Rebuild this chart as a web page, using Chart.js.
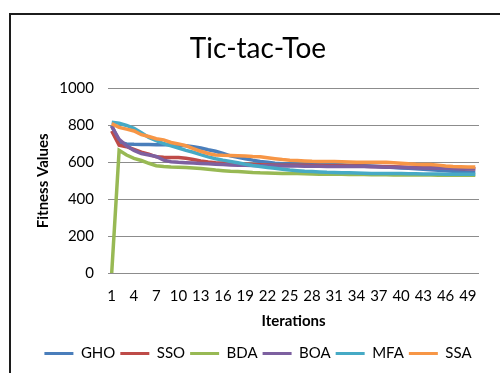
<!DOCTYPE html>
<html>
<head>
<meta charset="utf-8">
<script src="https://cdn.jsdelivr.net/npm/chart.js@4"></script>
<style>
    html, body { margin: 0; padding: 0; background: #fff; overflow: hidden; width: 500px; height: 373px; }
    .frame {
        position: absolute; left: 9px; top: 13px;
        width: 494px; height: 362px;
        border: 2px solid #1c1c1c;
    }
    canvas { display: block; }
</style>
</head>
<body>
<div class="frame"><canvas id="chart" width="494" height="360"></canvas></div>
<script>
const iterations = Array.from({ length: 50 }, (_, i) => String(i + 1));

const gho = [800, 710, 700, 698, 697, 697, 696, 695, 695, 693, 690, 685, 678, 668, 660, 648, 635, 628, 620, 612,
    605, 600, 595, 593, 592, 591, 590, 590, 590, 590, 588, 587, 585, 584, 582, 580, 578, 575, 572, 570,
    568, 565, 562, 560, 557, 555, 552, 550, 548, 546];
const sso = [770, 693, 685, 670, 655, 645, 630, 628, 627, 626, 622, 615, 608, 602, 598, 596, 594, 592, 590, 588,
    587, 586, 585, 585, 585, 584, 584, 583, 583, 582, 582, 581, 580, 580, 579, 578, 578, 577, 576, 575,
    574, 573, 572, 571, 570, 569, 568, 567, 566, 565];
const bda = [0, 665, 640, 622, 610, 595, 582, 577, 575, 574, 572, 570, 567, 563, 558, 555, 552, 550, 548, 545,
    543, 542, 541, 540, 540, 539, 538, 537, 536, 535, 535, 535, 534, 534, 534, 533, 533, 533, 532, 532,
    532, 531, 531, 531, 530, 530, 530, 530, 530, 530];
const boa = [795, 725, 690, 665, 648, 640, 632, 612, 603, 600, 598, 596, 594, 592, 590, 588, 586, 585, 584, 583,
    582, 581, 580, 580, 580, 580, 579, 579, 579, 578, 578, 578, 578, 577, 577, 576, 575, 574, 573, 572,
    571, 570, 570, 569, 568, 568, 567, 566, 565, 565];
const mfa = [818, 812, 800, 785, 760, 735, 718, 702, 690, 678, 665, 655, 642, 630, 620, 612, 605, 598, 590, 583,
    577, 572, 568, 563, 558, 555, 552, 550, 548, 546, 545, 544, 543, 542, 541, 540, 540, 540, 539, 539,
    538, 538, 537, 537, 537, 536, 536, 535, 535, 535];
const ssa = [810, 790, 780, 770, 750, 740, 728, 722, 708, 700, 690, 675, 660, 648, 640, 638, 637, 636, 635, 632,
    630, 625, 620, 615, 612, 610, 608, 606, 605, 605, 604, 603, 602, 601, 600, 600, 600, 600, 598, 595,
    592, 590, 589, 588, 585, 580, 577, 576, 575, 575];

const yTicks = [0, 200, 400, 600, 800, 1000];

const FONT = 'Lato, "Open Sans", sans-serif';

const series = [
    { label: 'GHO', data: gho, color: '#4a7ebb' },
    { label: 'SSO', data: sso, color: '#be4b48' },
    { label: 'BDA', data: bda, color: '#98b954' },
    { label: 'BOA', data: boa, color: '#7d60a0' },
    { label: 'MFA', data: mfa, color: '#46aac5' },
    { label: 'SSA', data: ssa, color: '#f79646' }
];

const ctx = document.getElementById('chart').getContext('2d');

new Chart(ctx, {
    type: 'line',
    data: {
        labels: iterations,
        datasets: series.map((s, i) => ({
            label: s.label,
            data: s.data,
            borderColor: s.color,
            backgroundColor: s.color,
            borderWidth: 3.5,
            pointRadius: 0,
            tension: 0,
            order: series.length - i
        }))
    },
    options: {
        responsive: false,
        animation: false,
        layout: {
            padding: { left: 0, right: 0, top: 0, bottom: 4 }
        },
        plugins: {
            title: {
                display: true,
                text: 'Tic-tac-Toe',
                color: '#000',
                font: { family: FONT, size: 28, weight: 'normal' },
                padding: { top: 17, bottom: 23 }
            },
            legend: {
                position: 'bottom',
                labels: {
                    color: '#000',
                    font: { family: FONT, size: 15 },
                    boxWidth: 29,
                    boxHeight: 3,
                    padding: 5,
                    generateLabels: (chart) => Chart.defaults.plugins.legend.labels.generateLabels(chart)
                        .map(item => ({ ...item, lineWidth: 0 })),
                    sort: (a, b) => a.datasetIndex - b.datasetIndex
                }
            },
            tooltip: { enabled: false }
        },
        scales: {
            y: {
                min: 0,
                max: 1000,
                afterBuildTicks: (scale) => {
                    scale.ticks = yTicks.map(v => ({ value: v }));
                },
                afterFit: (scale) => { scale.width = 97; },
                border: { display: false },
                grid: {
                    color: '#8c8c8c',
                    lineWidth: 1,
                    drawTicks: false
                },
                ticks: {
                    color: '#000',
                    font: { family: FONT, size: 15 },
                    padding: 14,
                    callback: (v) => String(v)
                },
                title: {
                    display: true,
                    text: 'Fitness Values',
                    color: '#000',
                    font: { family: FONT, size: 15, weight: 'bold' },
                    padding: { top: 23, bottom: 0 }
                }
            },
            // empty right-hand axis, only reserves the margin right of the plot
            spacer: {
                position: 'right',
                afterFit: (scale) => { scale.width = 26; },
                border: { display: false },
                grid: { display: false, drawTicks: false },
                ticks: { display: false }
            },
            x: {
                offset: true,
                afterFit: (scale) => { scale.height = 68; },
                border: { display: false },
                grid: { display: false, drawTicks: false },
                ticks: {
                    color: '#000',
                    font: { family: FONT, size: 15 },
                    autoSkip: false,
                    maxRotation: 0,
                    padding: 14,
                    callback: (val, i) => (i % 3 === 0 ? iterations[i] : '')
                },
                title: {
                    display: true,
                    text: 'Iterations',
                    color: '#000',
                    font: { family: FONT, size: 15, weight: 'bold' },
                    padding: { top: 0, bottom: 11 }
                }
            }
        }
    }
});
</script>
</body>
</html>
